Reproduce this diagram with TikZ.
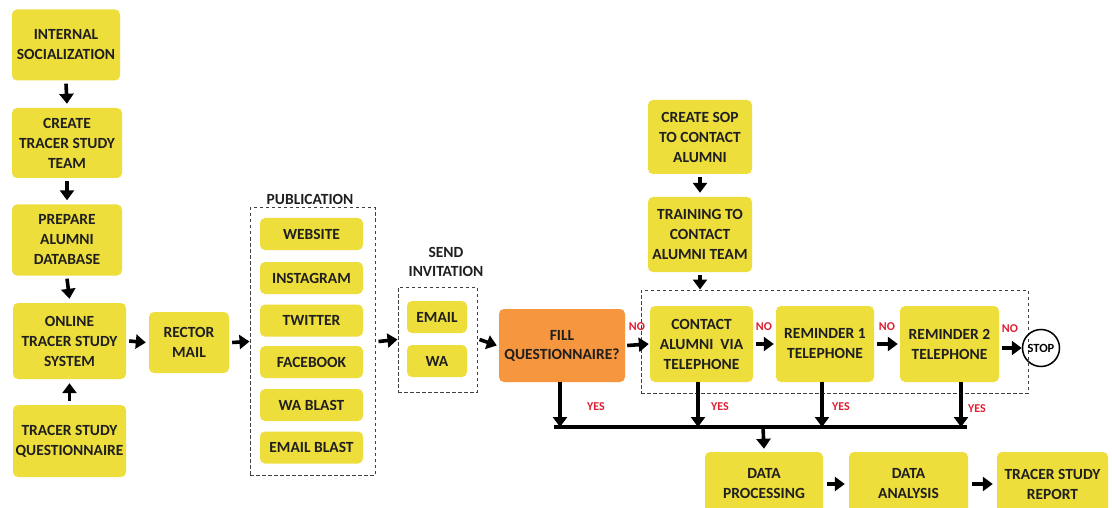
\documentclass[tikz,border=0pt]{standalone}
\usepackage{fontspec}
\setmainfont{Carlito}[BoldFont={Carlito Bold}]
\usetikzlibrary{arrows.meta}
\definecolor{boxy}{RGB}{238,222,60}
\definecolor{boxo}{RGB}{246,150,62}
\definecolor{redt}{RGB}{222,30,50}
\tikzset{
  box/.style={fill=boxy, rounded corners=5pt, align=center, inner sep=0pt,
    font=\fontsize{15.5}{20}\selectfont\bfseries, text=black!88},
  dbox/.style={draw=black!75, dashed, line width=1pt, dash pattern=on 3.5pt off 2.5pt, inner sep=0pt},
  arr/.style={line width=3.6pt, -{Triangle[length=10pt,width=14pt]}},
  bus/.style={line width=3.6pt},
  lbl/.style={font=\fontsize{15.5}{19.5}\selectfont\bfseries, align=center, text=black!88},
  nolbl/.style={font=\fontsize{12}{12}\selectfont\bfseries, text=redt},
}
\begin{document}
\begin{tikzpicture}[x=1pt,y=-1pt]
\clip (0,0) rectangle (1112,508);
\fill[white] (0,0) rectangle (1112,508);
% left column
\node[box, minimum width=108, minimum height=71] (soc) at (66,45) {INTERNAL\\SOCIALIZATION};
\node[box, minimum width=110, minimum height=70] (team) at (67,143) {CREATE\\TRACER STUDY\\TEAM};
\node[box, minimum width=110, minimum height=71] (db) at (67,240) {PREPARE\\ALUMNI\\DATABASE};
\node[box, minimum width=113, minimum height=76] (ots) at (69.5,341) {ONLINE\\TRACER STUDY\\SYSTEM};
\node[box, minimum width=113, minimum height=72] (tsq) at (69.5,441) {TRACER STUDY\\QUESTIONNAIRE};
\node[box, minimum width=80, minimum height=61] (rm) at (189,342.5) {RECTOR\\MAIL};
% publication
\node[dbox, minimum width=125, minimum height=267] (pub) at (312.5,341.5) {};
\node[lbl] (publbl) at (310,199) {PUBLICATION};
\node[box, minimum width=103, minimum height=32] (web) at (311.5,234) {WEBSITE};
\node[box, minimum width=103, minimum height=32] (ig) at (311.5,278) {INSTAGRAM};
\node[box, minimum width=103, minimum height=32] (tw) at (311.5,320.5) {TWITTER};
\node[box, minimum width=103, minimum height=32] (fb) at (311.5,362) {FACEBOOK};
\node[box, minimum width=103, minimum height=32] (wab) at (311.5,405) {WA BLAST};
\node[box, minimum width=103, minimum height=32] (emb) at (311.5,447.5) {EMAIL BLAST};
% send invitation
\node[dbox, minimum width=79, minimum height=105] (send) at (437.5,339.5) {};
\node[lbl] (sendlbl) at (446,262) {SEND\\INVITATION};
\node[box, minimum width=60, minimum height=32] (em) at (437,317) {EMAIL};
\node[box, minimum width=60, minimum height=32] (wa) at (437,361) {WA};
% fill
\node[box, fill=boxo, minimum width=126, minimum height=73] (fill) at (562,345.5) {FILL\\[-1pt]QUESTIONNAIRE?};
% SOP
\node[box, minimum width=104, minimum height=74] (sop) at (700,137) {CREATE SOP\\TO CONTACT\\ALUMNI};
\node[box, minimum width=104, minimum height=75] (trn) at (700,234.5) {TRAINING TO\\CONTACT\\ALUMNI TEAM};
% telephone group
\node[dbox, minimum width=387, minimum height=103] (tel) at (834.5,341.5) {};
\node[box, minimum width=103, minimum height=76] (cat) at (701.5,344) {CONTACT\\ALUMNI\ \ VIA\\TELEPHONE};
\node[box, minimum width=98, minimum height=76] (r1) at (825,344) {REMINDER 1\\TELEPHONE};
\node[box, minimum width=99, minimum height=76] (r2) at (949.5,344) {REMINDER 2\\TELEPHONE};
\node[draw, circle, line width=1.5pt, minimum size=37, inner sep=0pt, font=\fontsize{12.5}{13}\selectfont\bfseries] (stop) at (1041,348) {STOP};
% bottom
\node[box, minimum width=118, minimum height=64] (dp) at (764,484) {DATA\\PROCESSING};
\node[box, minimum width=119, minimum height=64] (da) at (908.5,484) {DATA\\ANALYSIS};
\node[box, minimum width=111, minimum height=64] (tsr) at (1052.5,484) {TRACER STUDY\\REPORT};
% bus coordinates
\coordinate (b0) at (556,427);
\coordinate (bf) at (560,427);
\coordinate (bc) at (698,427);
\coordinate (b1) at (822,427);
\coordinate (b2) at (961,427);
\coordinate (b3) at (965,427);
\coordinate (bd) at (763,427);
% arrows
\draw[arr] ([yshift=-3]soc.south) -- ([yshift=4]team.north);
\draw[arr] ([yshift=-3]team.south) -- ([yshift=4]db.north);
\draw[arr] ([yshift=-3]db.south) -- ([yshift=4]ots.north);
\draw[arr] ([yshift=4]tsq.north) -- ([yshift=-4]ots.south);
\draw[arr] ([xshift=3]ots.east) -- ([xshift=-3]rm.west);
\draw[arr] ([xshift=3]rm.east) -- (pub.west);
\draw[arr] ([xshift=3]pub.east) -- (send.west);
\draw[arr] ([xshift=2]send.east) -- ([xshift=-2]fill.west);
\draw[arr] ([xshift=2]fill.east) -- ([xshift=-1]cat.west);
\draw[arr] ([xshift=3]cat.east) -- ([xshift=-2]r1.west);
\draw[arr] ([xshift=3]r1.east) -- ([xshift=-2]r2.west);
\draw[arr] ([xshift=3]r2.east |- stop) -- (stop.west);
\draw[arr] ([yshift=-3]sop.south) -- ([yshift=4]trn.north);
\draw[arr] ([yshift=-3]trn.south) -- (trn.south |- tel.north);
\draw[arr] (fill.south -| bf) -- (bf);
\draw[arr] (cat.south -| bc) -- (bc);
\draw[arr] (r1.south -| b1) -- (b1);
\draw[arr] (r2.south -| b2) -- (b2);
\draw[bus] ([xshift=-1.8]b0) -- ([xshift=1.8]b3);
\draw[arr] (bd) -- ([yshift=3]dp.north);
\draw[arr] ([xshift=4]dp.east) -- ([xshift=-4]da.west);
\draw[arr] ([xshift=4]da.east) -- ([xshift=-4]tsr.west);
% labels
\node[nolbl] (no1) at (637,327) {NO};
\node[nolbl] (no2) at (764,327) {NO};
\node[nolbl] (no3) at (887,327) {NO};
\node[nolbl] (no4) at (1010,329) {NO};
\node[nolbl] (y1) at (596,407) {YES};
\node[nolbl] (y2) at (720,407) {YES};
\node[nolbl] (y3) at (841,407) {YES};
\node[nolbl] (y4) at (977,409) {YES};
\end{tikzpicture}
\end{document}
